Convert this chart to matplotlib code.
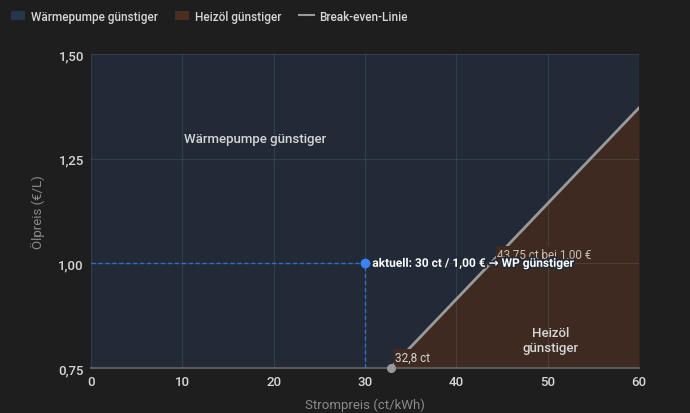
import matplotlib
matplotlib.use("Agg")
import matplotlib.pyplot as plt
import matplotlib.patheffects as pe
from matplotlib.patches import Patch
from matplotlib.lines import Line2D
import numpy as np

# data
x_range = [0, 60]           # Strompreis ct/kWh
y_range = [0.75, 1.50]      # Ölpreis €/L
break_even_ct = 43.75       # ct/kWh at 1,00 €/L
start_ct = 32.8             # break-even at 0,75 €/L
current_ct = 30
current_oil = 1.00
x_ticks = [0, 10, 20, 30, 40, 50, 60]
y_ticks = [0.75, 1.00, 1.25, 1.50]
y_ticklabels = ["0,75", "1,00", "1,25", "1,50"]

BG = "#1e1e1e"
BLUE = "#212a36"
BROWN = "#3e2a21"
LINE = "#9a9a9a"
TXT = "#d6d6d6"

plt.rcParams['font.family'] = ['Roboto', 'DejaVu Sans']

fig = plt.figure(figsize=(6.9, 4.14), dpi=100, facecolor=BG)
ax = fig.add_axes([91 / 690, 45 / 414, 548 / 690, 314 / 414])
ax.set_facecolor(BLUE)

# regions
be_x = np.array([start_ct, x_range[1]])
be_y = be_x / break_even_ct
ax.fill_between(be_x, y_range[0], be_y, color=BROWN, zorder=1, lw=0)
ax.plot(be_x, be_y, color=LINE, lw=2, zorder=3)

ax.set_xlim(x_range)
ax.set_ylim(y_range)
ax.set_xticks(x_ticks)
ax.set_yticks(y_ticks)
ax.set_yticklabels(y_ticklabels)
ax.grid(True, color="#8a94a0", alpha=0.18, lw=0.8, zorder=2)
ax.set_axisbelow(False)
for s in ["top", "right", "left"]:
    ax.spines[s].set_visible(False)
ax.spines["bottom"].set_color("#5a5a5a")
ax.spines["bottom"].set_linewidth(1.5)
ax.tick_params(length=0, colors=TXT, labelsize=9.5, pad=5)
for lab in ax.get_xticklabels() + ax.get_yticklabels():
    lab.set_fontweight("medium")
ax.set_xlabel("Strompreis (ct/kWh)", color="#8a8a8a", fontsize=9.5, labelpad=7)
ax.set_ylabel("Ölpreis (€/L)", color="#8a8a8a", fontsize=9.5, labelpad=10)

# current point
ax.plot([0, current_ct], [current_oil, current_oil], ls=(0, (3, 2)),
        color="#2f6fd0", lw=1, zorder=4)
ax.plot([current_ct, current_ct], [y_range[0], current_oil], ls=(0, (3, 2)),
        color="#2f6fd0", lw=1, zorder=4)
ax.scatter([current_ct], [current_oil], s=36, color="#3b82f6", zorder=5)
ax.text(current_ct + 0.8, current_oil, "aktuell: 30 ct / 1,00 € → WP günstiger",
        color="white", fontsize=8.6, fontweight="bold", va="center", zorder=6,
        path_effects=[pe.withStroke(linewidth=2.5, foreground=BLUE)])

# break-even labels
ax.scatter([start_ct], [y_range[0]], s=30, color="#9a9a9a", zorder=5, clip_on=False)
ax.text(start_ct + 0.5, 0.776, "32,8 ct", color=TXT, fontsize=8.5, va="center",
        zorder=4, bbox=dict(facecolor=BROWN, edgecolor="none", pad=1))
ax.text(break_even_ct + 0.7, 1.022, "43,75 ct bei 1,00 €", color="#c8c0b8",
        fontsize=8.5, va="center", zorder=4,
        bbox=dict(facecolor=BROWN, edgecolor="none", pad=1))

# region labels
ax.text(18, 1.297, "Wärmepumpe günstiger", color=TXT, fontsize=9.5,
        fontweight="medium", ha="center", va="center", zorder=4)
ax.text(50.3, 0.817, "Heizöl\ngünstiger", color=TXT, fontsize=9.5,
        fontweight="medium", ha="center", va="center", zorder=4, linespacing=1.15)

# legend
handles = [Patch(facecolor="#26364a", edgecolor="none", label="Wärmepumpe günstiger"),
           Patch(facecolor="#4a2e22", edgecolor="none", label="Heizöl günstiger"),
           Line2D([], [], color=LINE, lw=1.5, label="Break-even-Linie")]
leg = fig.legend(handles=handles, loc="upper left", bbox_to_anchor=(0.0, 1.0),
                 ncol=3, frameon=False, handlelength=1.2,
                 handleheight=0.9, columnspacing=1.5, handletextpad=0.5,
                 prop={"weight": "medium", "size": 8.5})
for t in leg.get_texts():
    t.set_color(TXT)

fig.savefig("out.png", facecolor=BG)
